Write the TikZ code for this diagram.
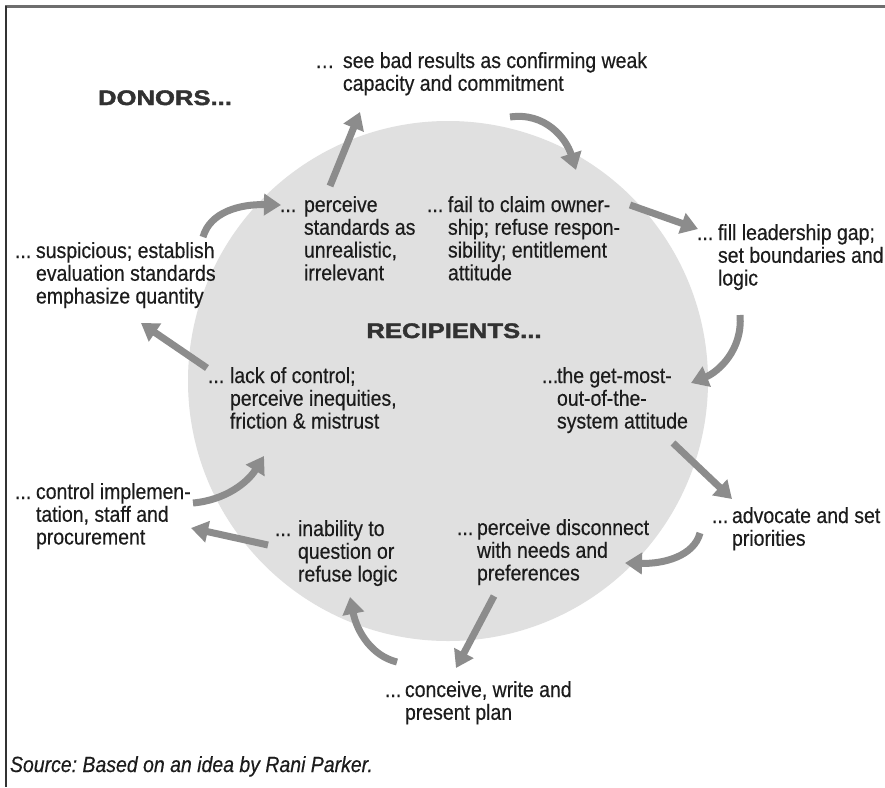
\documentclass[tikz,border=0pt]{standalone}
\usepackage{fontspec}
\setmainfont{Liberation Sans}[FakeStretch=0.885,FakeBold=0.4]
\newfontfamily\headfont{Liberation Sans}[FakeStretch=1.22,FakeBold=2]
\usetikzlibrary{arrows.meta}
\definecolor{discfill}{RGB}{224,224,224}
\definecolor{arrowc}{RGB}{140,140,140}
\definecolor{textc}{RGB}{28,28,28}
\definecolor{headc}{RGB}{50,50,50}
\definecolor{framec}{RGB}{110,110,110}
\newcommand\bodyfont{\fontsize{22}{22.7}\selectfont\frenchspacing}
\newcommand\headsize{\headfont\bfseries\fontsize{21}{24}\selectfont}
\newcommand\hang[3][21pt]{\begin{tabular}[t]{@{}l@{}l@{}}\makebox[#1][l]{#2}&#3\end{tabular}}
\begin{document}
\begin{tikzpicture}[x=1pt,y=-1pt,
  lbl/.style={anchor=base west, inner sep=0pt, outer sep=0pt, text=textc, font=\bodyfont},
  head/.style={anchor=base, inner sep=0pt, text=headc, font=\headsize},
  flow/.style={draw=arrowc, line width=7pt, -{Triangle[length=17pt,width=21pt]}},
]
\useasboundingbox (0,0) rectangle (885,787);
\fill[white] (0,0) rectangle (885,787);
\draw[line width=2.5pt, draw=framec] (5,6.5) -- (885,6.5);
\draw[line width=2pt, draw=black!80] (6,5.5) -- (6,787);
\fill[discfill] (448,381) circle[radius=260];

% headings
\node[head] (donors) at (165,105) {DONORS...};
\node[head] (recip) at (454,338) {RECIPIENTS...};

% labels
\node[lbl] (seebad) at (315,68) {\hang[28pt]{\ldots}{see bad results as confirming weak\\ & capacity and commitment}};
\node[lbl] (perc) at (280,212) {\hang[24pt]{...}{perceive\\ & standards as\\ & unrealistic,\\ & irrelevant}};
\node[lbl] (fail) at (427,212) {\hang{...}{fail to claim owner-\\ & ship; refuse respon-\\ & sibility; entitlement\\ & attitude}};
\node[lbl] (fill) at (697,240) {\hang{...}{fill leadership gap;\\ & set boundaries and\\ & logic}};
\node[lbl] (susp) at (15,258) {\hang{...}{suspicious; establish\\ & evaluation standards\\ & emphasize quantity}};
\node[lbl] (lack) at (208,383) {\hang[22pt]{...}{lack of control;\\ & perceive inequities,\\ & friction \& mistrust}};
\node[lbl] (getmost) at (542,383) {\hang[15pt]{...}{the get-most-\\ & out-of-the-\\ & system attitude}};
\node[lbl] (ctrl) at (15,499) {\hang{...}{control implemen-\\ & tation, staff and\\ & procurement}};
\node[lbl] (inab) at (275,536) {\hang[23pt]{...}{inability to\\ & question or\\ & refuse logic}};
\node[lbl] (disc) at (457,535) {\hang[20pt]{...}{perceive disconnect\\ & with needs and\\ & preferences}};
\node[lbl] (advo) at (712,523) {\hang[20pt]{...}{advocate and set\\ & priorities}};
\node[lbl] (conc) at (385,697) {\hang[20pt]{...}{conceive, write and\\ & present plan}};
\node[lbl, font=\bodyfont\itshape] (src) at (10,772) {Source: Based on an idea by Rani Parker.};

% arrow end points
\coordinate (a1s) at (330,186);  \coordinate (a1e) at (360,112);
\coordinate (a2s) at (510,117);  \coordinate (a2e) at (576,170);
\coordinate (a3s) at (630,205);  \coordinate (a3e) at (698,229);
\coordinate (a4s) at (740,315);  \coordinate (a4e) at (691,383);
\coordinate (a5s) at (673,443);  \coordinate (a5e) at (732,499);
\coordinate (a6s) at (700,533);  \coordinate (a6e) at (625,563);
\coordinate (a7s) at (494,596);  \coordinate (a7e) at (456,668);
\coordinate (a8s) at (397,662);  \coordinate (a8e) at (350,597);
\coordinate (a9s) at (268,545);  \coordinate (a9e) at (191,528);
\coordinate (a10s) at (193,503); \coordinate (a10e) at (264,456);
\coordinate (a11s) at (207,368); \coordinate (a11e) at (141,323);
\coordinate (a12s) at (203,237); \coordinate (a12e) at (281,205);

\draw[flow] (a1s) -- (a1e);
\draw[flow] (a2s) .. controls (545,112) and (566,138) .. (a2e);
\draw[flow] (a3s) -- (a3e);
\draw[flow] (a4s) .. controls (743,350) and (718,372) .. (a4e);
\draw[flow] (a5s) -- (a5e);
\draw[flow] (a6s) .. controls (694,556) and (664,564) .. (a6e);
\draw[flow] (a7s) -- (a7e);
\draw[flow] (a8s) .. controls (372,656) and (357,632) .. (a8e);
\draw[flow] (a9s) -- (a9e);
\draw[flow] (a10s) .. controls (226,500) and (248,482) .. (a10e);
\draw[flow] (a11s) -- (a11e);
\draw[flow] (a12s) .. controls (210,212) and (240,204) .. (a12e);
\end{tikzpicture}
\end{document}
